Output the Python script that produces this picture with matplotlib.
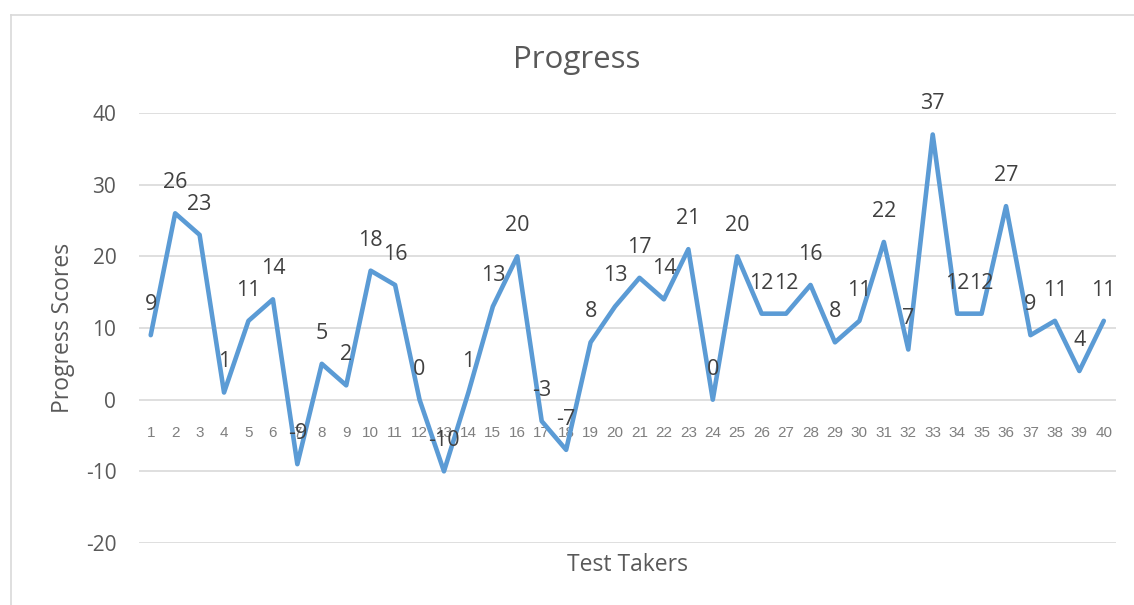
import matplotlib.pyplot as plt
from matplotlib.lines import Line2D

# Datos del grafico
takers = list(range(1, 41))
scores = [9, 26, 23, 1, 11, 14, -9, 5, 2, 18, 16, 0, -10, 1, 13, 20, -3, -7, 8, 13,
          17, 14, 21, 0, 20, 12, 12, 16, 8, 11, 22, 7, 37, 12, 12, 27, 9, 11, 4, 11]
y_ticks = [-20, -10, 0, 10, 20, 30, 40]

W, H = 1134, 605
fig = plt.figure(figsize=(W / 100, H / 100), dpi=100)
ax = fig.add_axes([138.5 / W, 1 - 543 / H, 977.5 / W, 430 / H])

font = 'Open Sans'
dark = '#595959'

ax.set_xlim(0.5, 40.5)
ax.set_ylim(-20, 40)
ax.set_yticks(y_ticks)
ax.set_yticklabels([str(v) for v in y_ticks], fontsize=15, color=dark, family=font)
ax.tick_params(axis='y', length=0, pad=16)
ax.set_xticks([])
ax.grid(axis='y', color='#D9D9D9', linewidth=1.2)
ax.set_axisbelow(True)
for s in ax.spines.values():
    s.set_visible(False)

# Linea de la serie
ax.plot(takers, scores, color='#5B9BD5', linewidth=3.3, solid_joinstyle='round',
        solid_capstyle='round', clip_on=False, zorder=3)

# Etiquetas de datos
for x, y in zip(takers, scores):
    ax.annotate(str(y), (x, y), xytext=(0, 22), textcoords='offset points',
                ha='center', va='center', fontsize=15.5, color='#404040', family=font,
                annotation_clip=False, zorder=4)

# Etiquetas de categoria junto al eje cero
for x in takers:
    ax.annotate(str(x), (x, 0), xytext=(0, -24), textcoords='offset points',
                ha='center', va='center', fontsize=11, color='#7F7F7F',
                family='Liberation Sans', annotation_clip=False, zorder=2)

ax.set_ylabel('Progress Scores', fontsize=16.5, color=dark, family=font)
ax.yaxis.set_label_coords(-(138.5 - 63) / 977.5, 0.5)
ax.yaxis.label.set_va('center')
ax.set_xlabel('Test Takers', fontsize=16.5, color=dark, family=font)
ax.xaxis.set_label_coords(0.5, -(565 - 543) / 430)
ax.xaxis.label.set_va('center')

fig.text(577 / W, 1 - 60 / H, 'Progress', ha='center', va='center', fontsize=22.5,
         color=dark, family=font)

# Borde del area del grafico
fig.add_artist(Line2D([10.5 / W, 10.5 / W], [0, 1 - 14.5 / H], transform=fig.transFigure,
                      color='#D9D9D9', linewidth=1.2))
fig.add_artist(Line2D([10.5 / W, 1], [1 - 14.5 / H, 1 - 14.5 / H], transform=fig.transFigure,
                      color='#D9D9D9', linewidth=1.2))

fig.savefig('out.png', dpi=100)
